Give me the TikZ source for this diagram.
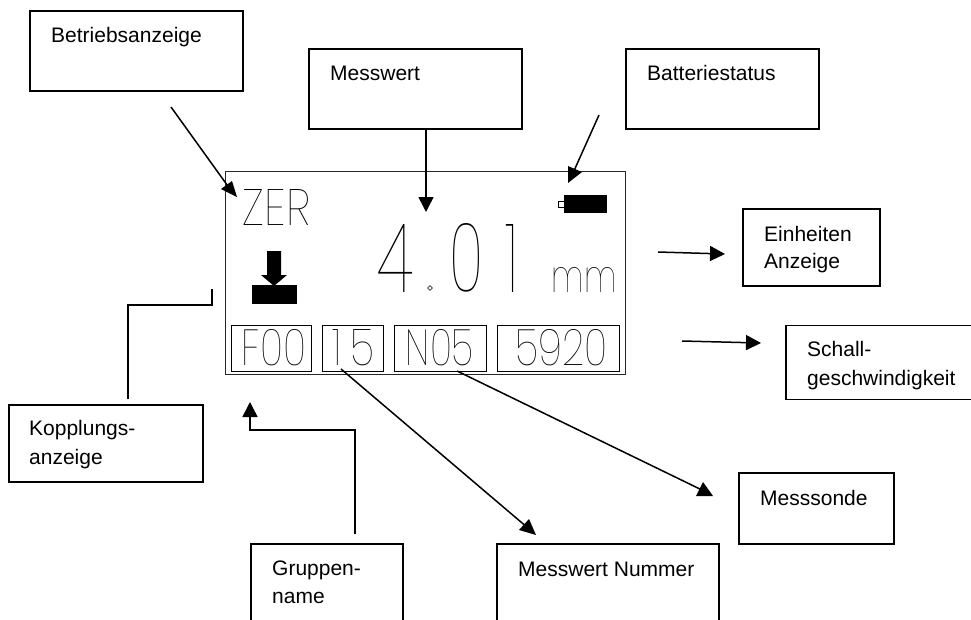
\documentclass[tikz,border=0pt]{standalone}
\usepackage{fontspec}
\usepackage{graphicx}
\setmainfont{Liberation Sans}
\newfontfamily\lcd[UprightFont={* Thin}]{Poppins}
\usetikzlibrary{arrows.meta,positioning,shapes.geometric}
\tikzset{
  x=1pt,y=-1pt,
  lab/.style={inner sep=0pt,anchor=base west,font=\fontsize{21}{24}\selectfont,text=black,align=left},
  boxline/.style={draw=black,line width=1.3pt,minimum width=#1,inner sep=0pt},
  conn/.style={draw=black,line width=1.5pt,-{Triangle[length=15pt,width=15pt]}},
  plain/.style={draw=black,line width=1.5pt},
  headfill/.style={fill=black,draw=none},
  frameline/.style={draw=black!85,line width=.8pt},
  lcdbox/.style={draw=black,line width=.7pt,minimum width=#1,minimum height=46pt,inner sep=0pt},
  lcdtext/.style={inner sep=0pt,anchor=center,text=black},
}
\newcommand{\fitlcd}[3]{\resizebox{#1pt}{#2pt}{\lcd #3}}
\begin{document}
\begin{tikzpicture}
\useasboundingbox (0,0) rectangle (971,619);
% label boxes
\node[boxline=213pt,minimum height=80pt] (bBetrieb) at (136.5,51) {};
\node[boxline=213pt,minimum height=80pt] (bMess) at (415.5,89) {};
\node[boxline=193pt,minimum height=80pt] (bBatt) at (722.5,89) {};
\node[boxline=137pt,minimum height=77pt] (bEinh) at (811.5,247.5) {};
\node[boxline=194pt,minimum height=77pt] (bKopp) at (106,443.5) {};
\node[boxline=155pt,minimum height=71pt] (bSonde) at (816.5,508.5) {};
\begin{scope}
\clip (0,0) rectangle (971,619);
\node[boxline=214pt,minimum height=74pt] (bSchall) at (893,362.5) {};
\node[boxline=152pt,minimum height=90pt] (bGrup) at (327,589) {};
\node[boxline=222pt,minimum height=90pt] (bNum) at (608,589) {};
\end{scope}
% labels
\node[lab] (tBetrieb) at (51,42) {Betriebsanzeige};
\node[lab] (tMess) at (330,80) {Messwert};
\node[lab] (tBatt) at (647,80) {Batteriestatus};
\node[lab] (tEinh1) at (764,241) {Einheiten};
\node[lab] (tEinh2) at (764,268.5) {Anzeige};
\node[lab] (tSchall1) at (807,356) {Schall-};
\node[lab] (tSchall2) at (807,385) {geschwindigkeit};
\node[lab] (tKopp1) at (29,435) {Kopplungs-};
\node[lab] (tKopp2) at (29,464) {anzeige};
\node[lab] (tGrup1) at (272,575) {Gruppen-};
\node[lab] (tGrup2) at (272,603.5) {name};
\node[lab] (tNum) at (518,576) {Messwert Nummer};
\node[lab] (tSonde) at (760,505) {Messsonde};
% display
\node[frameline,minimum width=400pt,minimum height=203pt,inner sep=0pt] (disp) at (425,272.5) {};
\node[lcdbox=80pt] (fF) at (271,348) {};
\node[lcdbox=61pt] (fN) at (352.5,348) {};
\node[lcdbox=92pt] (fS) at (440,348) {};
\node[lcdbox=122pt] (fV) at (558,348) {};
\node[lcdtext] (lZer) at (276.5,207) {\fitlcd{67}{36}{ZER}};
\node[lcdtext] (l4) at (395,258) {\fitlcd{36}{68}{4}};
\node[lcdtext] (l0) at (466,258) {\fitlcd{34}{68}{0}};
\node[lcdtext] (l1) at (511.5,258) {\fitlcd{13}{68}{1}};
\node[draw=black!80,line width=.6pt,diamond,aspect=1,minimum size=5pt,inner sep=0pt] (lDot) at (430,288) {};
\node[lcdtext] (lMm) at (584.5,279.5) {\fitlcd{65}{25}{mm}};
\node[lcdtext] (lF) at (274,348) {\fitlcd{64}{36}{F00}};
\node[lcdtext] (lN) at (353,348) {\fitlcd{42}{36}{1\hspace{.22em}5}};
\node[lcdtext] (lS) at (440,348) {\fitlcd{68}{36}{N05}};
\node[lcdtext] (lV) at (561,348) {\fitlcd{92}{36}{5920}};
% symbols
\fill[black] (267,251) -- (281,251) -- (281,275) -- (287,275) -- (274,286) -- (261,275) -- (267,275) -- cycle;
\fill[black] (252,285) rectangle (297,304);
\fill[black] (564,195) rectangle (607,213);
\draw[black,line width=.7pt] (558,201) rectangle (564,207);
% connector ends
\coordinate (a1) at (171,107); \coordinate (a2) at (230,189);
\coordinate (b2) at (426,212);
\coordinate (c1) at (599,115); \coordinate (c2) at (573,173);
\coordinate (d1) at (658,252); \coordinate (d2) at (725,254);
\coordinate (e1) at (682,341); \coordinate (e2) at (761,343);
\coordinate (f1) at (128,399); \coordinate (f2) at (128,305); \coordinate (f3) at (212,305); \coordinate (f4) at (212,289);
\coordinate (g1) at (355,534); \coordinate (g2) at (355,430); \coordinate (g3) at (250,430); \coordinate (g4) at (250,402);
\coordinate (h1) at (341,369); \coordinate (h2) at (528,528);
\coordinate (i1) at (457,371); \coordinate (i2) at (704,491);
\draw[plain] (a1) -- (a2);
\fill[headfill] (221,189) -- (232,181) -- (237,197) -- cycle;
\draw[conn] (bMess.south -| b2) -- (b2);
\draw[plain] (c1) -- (c2);
\fill[headfill] (568,183) -- (568,166) -- (582,172) -- cycle;
\draw[conn] (d1) -- (d2);
\draw[conn] (e1) -- (e2);
\draw[plain] (f1) -- (f2) -- (f3) -- (f4);
\draw[conn] (g1) -- (g2) -- (g3) -- (g4);
\draw[plain] (h1) -- (h2);
\fill[headfill] (519,530) -- (529,519) -- (536,535) -- cycle;
\draw[plain] (i1) -- (i2);
\fill[headfill] (696,496) -- (713,496) -- (703,482) -- cycle;
\end{tikzpicture}
\end{document}
